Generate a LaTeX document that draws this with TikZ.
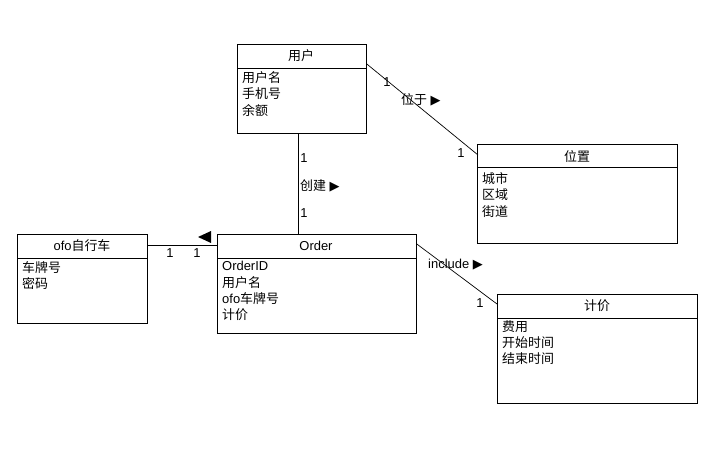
\documentclass[tikz,border=0pt]{standalone}
\usepackage{fontspec}
\setmainfont{Liberation Sans}
\newfontfamily\cjk{Noto Sans CJK SC}
\newfontfamily\sym{DejaVu Sans}
\usetikzlibrary{calc}
\tikzset{
  cls/.style={draw, line width=0.8pt, anchor=north west, inner sep=0pt},
  hdr/.style={font=\fontsize{13}{15}\selectfont, inner sep=0pt},
  attr/.style={font=\fontsize{13}{16.5}\selectfont, align=left, anchor=north west, inner sep=0pt},
  lbl/.style={font=\fontsize{13}{15}\selectfont, inner sep=0pt},
  conn/.style={line width=0.7pt}
}
\newcommand{\tri}{{\sym\fontsize{13}{15}\selectfont ▶}}
\begin{document}
\begin{tikzpicture}[x=1bp,y=-1bp]
\useasboundingbox (0,0) rectangle (713,466);
% classes
\node[cls, minimum width=129bp, minimum height=89bp] (u) at (237,44) {};
\draw[line width=0.8pt] (237,68) -- (366,68);
\node[hdr] (uh) at (301,56) {\cjk 用户};
\node[attr] (ua) at (242,71) {\cjk 用户名\\\cjk 手机号\\\cjk 余额};

\node[cls, minimum width=200bp, minimum height=99bp] (p) at (477,144) {};
\draw[line width=0.8pt] (477,167) -- (677,167);
\node[hdr] (ph) at (577,157) {\cjk 位置};
\node[attr] (pa) at (482,172) {\cjk 城市\\\cjk 区域\\\cjk 街道};

\node[cls, minimum width=130bp, minimum height=89bp] (b) at (17,234) {};
\draw[line width=0.8pt] (17,258) -- (147,258);
\node[hdr] (bh) at (82,246) {ofo{\cjk 自行车}};
\node[attr] (ba) at (22,261) {\cjk 车牌号\\\cjk 密码};

\node[cls, minimum width=199bp, minimum height=99bp] (o) at (217,234) {};
\draw[line width=0.8pt] (217,258) -- (416,258);
\node[hdr] (oh) at (316,246) {Order};
\node[attr] (oa) at (222,261) {OrderID\\{\cjk 用户名}\\ofo{\cjk 车牌号}\\{\cjk 计价}};

\node[cls, minimum width=200bp, minimum height=109bp] (j) at (497,294) {};
\draw[line width=0.8pt] (497,318) -- (697,318);
\node[hdr] (jh) at (597,306) {\cjk 计价};
\node[attr] (ja) at (502,320) {\cjk 费用\\\cjk 开始时间\\\cjk 结束时间};

% connectors
\coordinate (u1) at ($(u.north east)+(0,20)$);
\coordinate (p1) at ($(p.north west)+(1,11)$);
\draw[conn] (u1) -- (p1);
\draw[conn] (u.south -| 298,0) -- (o.north -| 298,0);
\draw[conn] (b.north east |- 0,245) -- (o.north west |- 0,245);
\coordinate (o1) at ($(o.north east)+(0,10)$);
\coordinate (j1) at ($(j.north west)+(0,10)$);
\draw[conn] (o1) -- (j1);

% labels
\node[lbl] (l1) at (387,82) {1};
\node[lbl, anchor=west] (l2) at (401,100) {{\cjk 位于} \tri};
\node[lbl] (l3) at (461,153) {1};
\node[lbl] (l4) at (304,158) {1};
\node[lbl, anchor=west] (l5) at (300,186) {{\cjk 创建} \tri};
\node[lbl] (l6) at (304,213) {1};
\node[lbl] (l7) at (170,253) {1};
\node[lbl] (l8) at (197,253) {1};
\node[lbl, anchor=west] (l9) at (428,265) {include \tri};
\node[lbl] (l10) at (480,303) {1};
\fill (198,237) -- (211,231) -- (211,243) -- cycle;
\end{tikzpicture}
\end{document}
